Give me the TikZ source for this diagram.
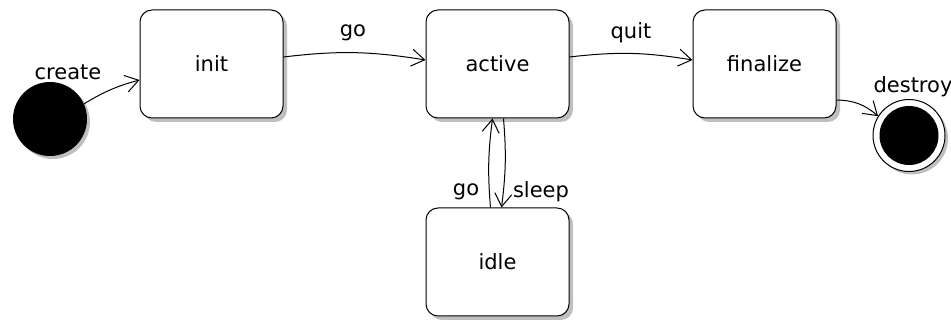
\documentclass[tikz,border=0pt]{standalone}
\usepackage{fontspec}
\setsansfont{DejaVu Sans}
\usetikzlibrary{arrows.meta,shadows}

\tikzset{
  state/.style={draw, line width=1pt, rounded corners=12pt, fill=white,
    minimum width=143pt, minimum height=108pt, inner sep=0pt,
    drop shadow={shadow xshift=4pt, shadow yshift=-4pt, fill=black!25, opacity=1},
    font=\sffamily\fontsize{21}{25}\selectfont},
  trans/.style={-{Straight Barb[length=13pt,width=17pt,line width=1pt]}, line width=1pt},
  lbl/.style={font=\sffamily\fontsize{21}{25}\selectfont, inner sep=0pt}
}

\begin{document}
\begin{tikzpicture}[x=1pt, y=1pt]
  \useasboundingbox (0, 0) rectangle (951, 320);

  % States
  \node [state] (init) at (211.5, 256) {init};
  \node [state] (active) at (497.5, 256) {active};
  \node [state] (finalize) at (764.5, 256) {finalize};
  \node [state] (idle) at (497.5, 58) {idle};

  % Pseudo states
  \node [circle, fill=black, minimum size=74pt, inner sep=0pt,
    drop shadow={shadow xshift=3pt, shadow yshift=-3pt, fill=black!25, opacity=1}]
    (start) at (50, 201) {};
  \node [circle, draw, line width=1pt, fill=white, minimum size=72pt, inner sep=0pt,
    drop shadow={shadow xshift=3pt, shadow yshift=-3pt, fill=black!25, opacity=1}]
    (stop) at (909, 184.5) {};
  \node [circle, fill=black, minimum size=59pt, inner sep=0pt] (stopdot) at (stop) {};

  % Transitions
  \draw [trans] (start.24) to [bend left=8] ([yshift=-16pt]init.west);
  \draw [trans] ([yshift=7pt]init.east) to [bend left=8] ([yshift=4pt]active.west);
  \draw [trans] ([yshift=7pt]active.east) to [bend left=8] ([yshift=4pt]finalize.west);
  \draw [trans] ([yshift=-36pt]finalize.east) to [bend left=20] (stop.148);
  \draw [trans] ([xshift=-7pt]idle.north) to [bend left=6] ([xshift=-5pt]active.south);
  \draw [trans] ([xshift=6pt]active.south) to [bend left=6] ([xshift=4pt]idle.north);

  % Labels
  \node [lbl] (lcreate) at (68, 248) {create};
  \node [lbl] (lgo) at (353, 287) {go};
  \node [lbl] (lquit) at (631, 287) {quit};
  \node [lbl] (ldestroy) at (913, 233) {destroy};
  \node [lbl] (lgoback) at (466, 128) {go};
  \node [lbl] (lsleep) at (541, 128) {sleep};
\end{tikzpicture}
\end{document}
